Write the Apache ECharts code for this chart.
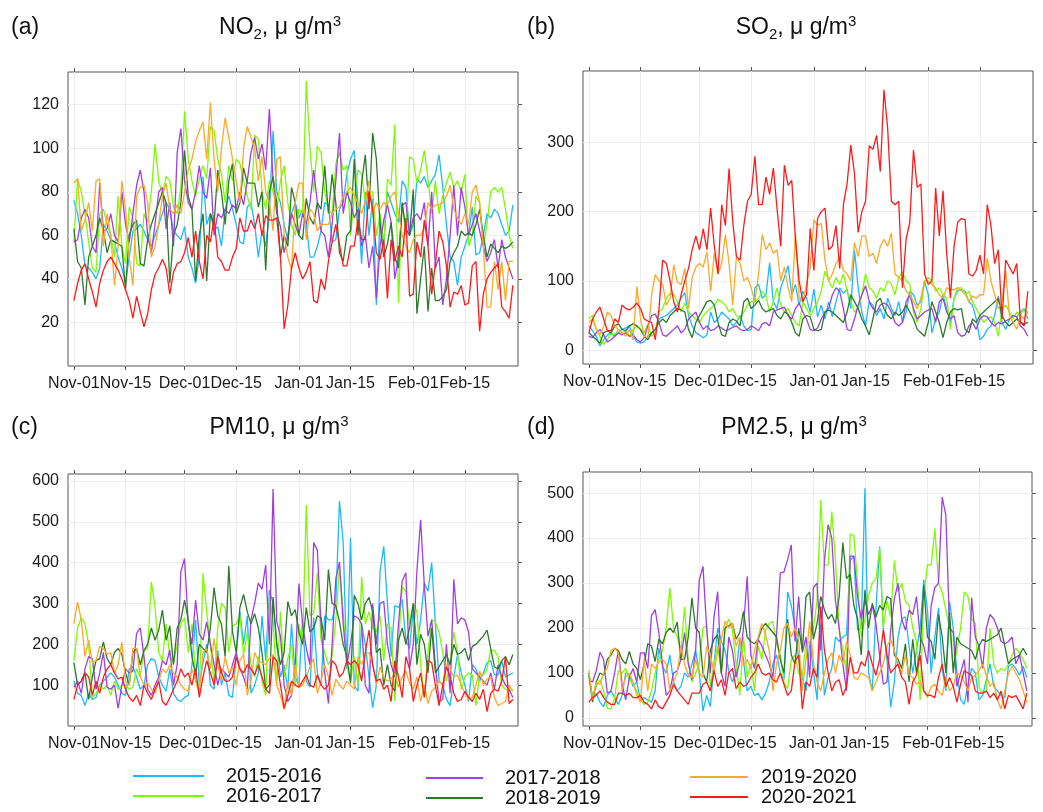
<!DOCTYPE html>
<html>
<head>
<meta charset="utf-8">
<script src="https://cdn.jsdelivr.net/npm/echarts@6/dist/echarts.min.js"></script>
<style>html,body{margin:0;padding:0;background:#fff}#c{width:1043px;height:812px}</style>
</head>
<body>
<div id="c"></div>
<script>
const seasons = ['2015-2016','2016-2017','2017-2018','2018-2019','2019-2020','2020-2021'];
const tickDays = [0,14,30,44,61,75,92,106];
const tickLabels = ['Nov-01','Nov-15','Dec-01','Dec-15','Jan-01','Jan-15','Feb-01','Feb-15'];
const no2Ticks = [20,40,60,80,100,120];
const so2Ticks = [0,100,200,300];
const pm10Ticks = [100,200,300,400,500,600];
const pm25Ticks = [0,100,200,300,400,500];

// ---- NO2 ----
const no2_1516 = [76,70,60,46,45,43,40,45,65,62,58,57,50,45,38,50,62,63,65,62,58,55,60,65,70,75,72,62,60,58,64,50,45,38,50,87,65,70,62,64,55,72,78,72,65,57,56,73,75,65,50,62,55,70,108,80,75,65,58,70,75,68,72,65,50,50,55,62,75,74,57,58,72,75,88,95,99,75,47,80,60,77,28,68,55,80,75,70,66,85,82,60,65,86,84,87,82,85,88,97,82,65,50,48,37,50,55,60,73,51,52,60,70,68,72,70,65,60,62,74];
const no2_1617 = [57,86,80,70,57,45,43,70,72,65,60,50,78,55,47,73,68,47,46,70,66,80,102,85,78,87,85,73,70,82,117,95,85,78,86,92,86,110,108,95,88,75,92,85,95,93,85,78,72,106,104,80,72,85,80,72,85,92,75,65,60,72,70,131,100,80,101,98,80,72,70,93,98,90,92,60,77,90,88,76,80,80,60,70,56,86,83,111,29,75,60,96,95,84,90,99,86,70,85,70,78,84,89,82,85,80,88,55,60,78,75,55,65,80,82,80,82,72,60,54];
const no2_1718 = [57,58,68,72,68,55,52,84,62,63,70,60,57,80,65,57,70,83,90,80,60,52,65,80,82,63,75,55,98,109,85,75,72,80,92,80,77,91,60,70,68,72,70,74,72,80,74,85,98,105,95,102,90,118,85,70,64,52,60,70,65,60,70,65,75,90,75,62,60,50,65,85,107,70,80,75,68,72,55,60,45,55,31,55,67,74,66,40,50,74,75,60,68,70,67,75,55,80,45,50,28,40,60,83,60,82,73,60,65,70,62,55,48,52,58,45,58,50,45,40];
const no2_1819 = [63,48,45,28,50,55,60,68,62,52,58,57,56,55,35,60,65,67,47,46,58,65,70,75,80,75,38,60,65,75,99,78,72,39,60,70,39,70,65,90,80,65,85,93,70,75,91,84,84,84,73,80,44,80,87,75,50,60,55,82,75,60,58,77,68,65,75,72,92,70,88,75,52,48,60,62,95,60,84,97,72,107,95,65,50,56,66,50,45,75,63,60,81,24,40,55,25,45,30,30,32,35,48,52,55,62,60,61,60,65,72,60,50,56,54,52,55,54,55,57];
const no2_1920 = [84,86,62,67,75,62,85,86,55,70,60,37,55,85,72,50,37,78,82,83,75,50,55,65,78,84,72,70,74,70,80,90,95,103,108,112,95,121,95,80,100,114,105,95,85,75,100,110,105,100,85,96,80,75,62,95,96,60,50,44,75,84,84,58,72,70,62,65,65,65,70,72,73,78,80,82,78,75,70,76,85,70,75,72,75,74,78,80,70,60,55,52,58,60,60,63,75,72,74,74,75,78,83,72,68,65,70,65,80,83,75,55,27,27,48,35,48,30,48,48];
const no2_2021 = [30,38,44,47,40,34,27,38,44,48,50,47,44,40,35,30,22,32,25,18,24,35,42,45,49,45,33,43,47,48,52,59,50,62,48,40,60,57,68,50,48,44,44,50,54,68,62,62,67,63,70,60,69,67,67,68,50,17,28,45,52,45,40,43,48,30,29,40,35,48,57,65,56,46,46,55,55,67,58,58,80,72,52,49,58,31,58,48,55,50,68,32,33,57,50,67,55,33,47,62,57,46,27,34,33,37,28,29,46,48,16,33,40,43,45,47,27,25,22,37];

// ---- SO2 ----
const so2_1516 = [35,28,20,6,15,22,25,20,25,30,32,35,20,12,10,12,20,25,30,45,48,50,55,60,65,75,83,50,35,25,22,18,22,55,40,45,55,50,45,35,40,50,35,28,30,90,95,75,80,126,70,60,90,105,122,80,95,65,85,75,55,88,48,65,45,70,48,70,90,82,88,60,144,90,55,35,70,65,50,60,45,75,60,50,70,40,55,85,80,65,70,100,80,25,45,55,80,60,40,75,85,88,85,70,65,45,15,20,30,35,50,78,40,30,45,50,48,55,60,45];
const so2_1617 = [45,50,30,20,8,15,25,22,30,25,28,20,30,35,30,25,38,20,25,55,60,75,82,80,70,55,68,55,50,45,40,50,55,60,65,73,70,65,55,60,50,45,55,65,70,70,75,85,78,55,70,90,65,55,60,50,40,35,70,60,50,60,70,85,114,100,90,105,95,110,85,70,55,60,80,110,90,85,75,90,85,100,95,80,105,112,100,95,55,40,60,100,105,100,85,90,80,75,30,75,90,90,80,85,70,60,50,40,45,48,40,20,60,65,55,45,55,50,60,55];
const so2_1718 = [20,18,25,30,22,12,15,20,25,22,25,20,22,15,12,18,35,50,52,40,22,20,25,30,35,25,30,45,50,55,40,30,35,28,30,35,32,28,30,33,35,30,28,30,35,32,28,38,40,35,55,58,60,62,50,45,60,68,55,45,30,28,32,45,55,60,80,90,85,60,30,28,45,65,80,93,70,60,55,65,68,65,55,40,35,40,70,80,60,45,50,55,58,60,40,70,75,55,45,50,25,20,22,35,40,30,45,50,48,40,35,40,38,42,45,50,48,35,30,20];
const so2_1819 = [25,20,15,10,25,28,25,35,38,30,28,35,38,35,30,20,15,25,30,40,45,40,50,55,60,58,55,30,18,40,50,60,70,72,65,40,22,20,40,45,42,35,70,75,60,65,72,60,55,58,60,50,45,55,52,40,25,20,45,50,48,30,28,30,55,58,55,50,45,40,55,80,70,60,45,35,22,45,70,75,60,50,45,55,50,55,65,55,45,30,25,20,40,70,55,40,18,40,55,60,58,60,30,25,45,40,50,55,60,65,70,75,50,40,35,40,45,40,38,40];
const so2_1920 = [40,45,30,22,35,55,50,35,30,25,20,30,15,92,45,20,18,80,109,100,95,65,75,123,98,95,118,60,105,120,125,120,142,85,140,110,125,167,125,65,135,125,100,105,90,70,110,167,145,155,140,145,100,120,90,70,169,75,70,95,120,188,180,183,130,100,110,125,135,115,110,100,155,135,165,165,135,140,125,150,160,150,169,110,105,100,85,80,70,60,75,100,100,95,90,80,75,90,88,87,90,85,82,70,78,75,80,80,133,100,80,60,70,115,50,40,30,50,45,55];
const so2_2021 = [25,45,55,62,45,28,28,45,40,65,60,58,62,68,60,45,42,40,15,60,130,125,100,70,55,80,100,118,145,165,145,175,145,205,150,110,210,180,262,185,135,130,180,215,225,280,210,210,250,225,263,205,150,267,238,245,160,100,70,80,176,115,190,200,205,145,150,180,118,210,240,296,255,170,200,215,295,290,310,258,376,320,215,210,215,90,160,185,289,235,240,110,95,100,234,165,230,140,75,150,185,190,188,110,107,115,137,110,210,180,125,145,45,130,120,110,125,40,35,85];

// ---- PM10 ----
const pm10_1516 = [110,80,75,50,80,65,70,100,110,120,130,120,100,80,75,140,145,120,90,100,150,165,160,120,100,85,140,80,65,60,70,75,150,260,100,155,200,100,90,185,100,130,75,70,170,280,200,270,80,100,130,270,160,333,300,200,120,150,90,250,120,100,260,110,95,265,130,100,270,260,260,300,551,450,140,461,100,85,250,200,120,45,100,380,440,300,170,295,290,310,210,190,285,200,260,351,330,400,250,110,100,65,50,120,175,130,100,60,150,140,110,130,155,160,125,125,160,120,125,130];
const pm10_1617 = [160,240,265,250,200,70,80,100,90,100,75,110,90,100,100,90,95,140,120,185,190,353,290,180,160,250,170,155,200,250,265,180,250,120,85,374,280,200,100,240,300,290,180,245,250,270,175,230,150,120,170,110,75,320,260,100,280,120,165,200,100,250,200,541,270,275,375,210,180,150,170,260,390,280,150,110,170,100,365,250,280,240,230,270,160,250,240,60,200,341,330,250,300,280,150,70,180,260,255,230,180,110,160,230,180,90,120,130,125,50,130,125,140,185,185,170,100,90,85,90];
const pm10_1718 = [95,110,80,140,170,165,90,130,180,95,90,100,43,100,140,130,135,227,240,170,90,75,100,120,160,150,186,100,150,378,410,250,200,308,225,210,255,200,150,100,140,130,120,150,180,140,120,90,260,300,350,335,394,200,580,255,220,100,60,75,150,349,250,190,150,449,430,250,130,55,200,360,402,250,150,200,270,265,250,100,80,300,200,300,305,200,150,120,250,355,375,140,200,380,505,345,220,260,150,60,65,200,80,359,250,265,260,230,140,130,120,110,100,130,90,150,120,100,90,70];
const pm10_1819 = [155,100,110,130,65,120,160,165,206,165,150,180,190,175,130,100,180,190,150,185,200,240,210,235,284,210,245,150,240,260,308,260,170,125,200,190,180,240,339,270,250,170,392,230,180,290,322,280,250,275,240,180,90,100,316,200,150,180,305,270,285,230,200,290,230,240,270,265,210,383,300,295,255,200,170,105,320,300,260,300,315,280,180,190,100,150,100,85,210,240,200,240,300,150,225,200,130,240,130,145,160,175,150,200,175,180,190,160,195,200,210,220,235,190,145,140,160,170,150,175];
const pm10_1920 = [250,304,260,170,210,155,160,195,190,175,180,130,150,205,110,100,190,190,120,100,105,90,80,110,140,130,150,130,120,100,90,85,140,110,80,180,190,140,214,150,110,170,130,145,100,160,175,75,110,180,160,155,150,165,175,100,75,40,110,75,150,95,100,120,145,165,80,110,150,120,75,115,100,90,110,100,90,170,150,175,180,150,100,145,120,110,115,130,95,120,135,105,90,120,60,100,55,85,95,110,100,150,140,120,125,100,80,65,70,100,135,100,115,120,70,50,55,60,100,85];
const pm10_2021 = [65,100,110,130,120,75,110,80,120,140,150,130,115,120,90,70,60,75,50,100,80,65,90,110,60,51,70,90,110,140,120,130,100,140,70,120,160,130,100,170,130,110,110,120,169,140,130,150,140,125,150,120,90,80,170,160,100,43,75,110,100,95,110,125,100,95,125,100,90,100,160,150,120,130,160,150,160,150,110,180,235,150,110,115,90,100,60,160,120,70,170,140,60,100,130,70,160,155,100,50,100,145,120,80,60,65,85,70,60,80,65,90,35,80,90,85,110,170,55,65];

// ---- PM2.5 ----
const pm25_1516 = [95,40,55,35,25,50,60,45,30,50,100,95,70,80,40,45,40,35,60,155,115,100,140,80,60,70,100,90,120,150,100,15,50,25,120,200,170,150,105,80,100,175,130,60,70,50,55,40,55,80,120,140,100,85,280,250,200,130,90,60,170,105,40,210,50,90,110,180,170,180,185,350,360,195,200,511,100,60,240,381,200,130,24,80,180,220,225,160,100,150,200,307,240,100,180,245,110,60,259,200,100,40,30,75,110,100,40,50,85,120,70,60,50,45,115,120,110,95,115,90];
const pm25_1617 = [90,50,70,85,60,22,20,45,105,100,110,85,75,60,40,30,35,60,100,130,150,200,289,200,180,150,247,130,80,100,120,200,205,70,120,160,100,200,220,195,120,50,180,90,120,60,160,130,195,210,215,165,140,80,65,130,140,100,90,170,165,200,260,485,340,340,459,350,200,150,100,409,405,300,180,220,270,300,310,378,200,260,225,350,280,300,260,250,200,170,40,270,341,340,421,300,280,240,200,110,150,200,280,270,220,210,70,55,60,200,120,100,110,105,120,140,155,145,130,110];
const pm25_1718 = [85,80,105,146,130,55,60,100,150,75,40,90,110,80,144,145,110,227,241,190,120,50,60,100,105,130,190,120,85,150,307,337,200,100,225,281,100,70,180,150,90,125,200,315,140,110,175,160,140,120,90,185,322,325,352,385,170,270,145,180,90,290,300,150,350,430,400,260,200,120,60,360,360,270,220,263,230,250,210,140,75,80,195,265,300,220,195,240,230,270,180,160,120,250,290,300,491,450,200,190,70,100,130,35,267,180,160,110,200,230,220,200,170,165,170,180,120,140,100,60];
const pm25_1819 = [100,35,80,100,95,130,140,155,150,130,120,148,120,110,85,120,165,160,125,175,165,190,200,190,213,130,130,180,267,200,190,100,80,150,175,185,100,200,205,210,175,190,237,180,170,165,175,200,210,200,190,180,130,100,220,140,120,200,150,270,280,175,210,270,240,220,230,210,270,390,310,320,250,220,140,285,200,255,225,250,240,270,265,140,130,110,165,80,175,100,150,296,180,170,130,230,180,100,235,100,180,165,160,155,150,130,160,175,170,175,180,185,200,160,120,130,135,140,155,140];
const pm25_1920 = [107,40,80,75,100,110,150,155,145,60,90,100,80,50,35,130,60,120,110,125,130,120,60,80,100,160,120,95,90,130,100,90,160,140,100,150,175,215,200,210,160,180,115,130,110,150,180,210,185,150,60,120,150,200,210,180,200,170,60,130,215,125,80,60,100,130,145,100,140,120,170,140,90,85,100,95,90,60,80,100,120,160,175,150,120,100,140,95,90,75,80,60,45,70,75,60,50,90,60,70,100,95,80,60,90,95,105,120,95,70,80,40,20,60,100,115,100,85,60,35];
const pm25_2021 = [35,45,50,60,45,35,30,30,55,55,50,55,45,45,50,35,30,20,40,25,20,35,50,74,60,50,40,30,55,55,55,75,80,60,105,70,85,50,100,110,65,80,70,75,90,100,120,100,95,100,85,80,100,75,50,60,125,140,20,80,70,110,90,248,150,100,60,80,85,50,70,135,100,100,125,115,150,120,95,130,196,140,100,110,120,90,80,30,80,95,140,60,50,50,45,90,120,70,90,70,35,75,105,100,95,60,55,55,60,45,55,40,60,20,50,45,50,35,20,55];

const FONT = 'Liberation Sans, Arial, sans-serif';
const colors = ['#1cb9ff','#7cfc00','#a23ee0','#2b7a2b','#ffa726','#ff1a1a'];

const panels = [
  {tag:'(a)', title:'{m|NO}{s|2}{m|, \u03bc g/m}{p|3}', series:[no2_1516,no2_1617,no2_1718,no2_1819,no2_1920,no2_2021], yMin:0, yMax:135, yTicks:no2Ticks,
   grid:{left:68, top:72, width:450, height:294}, tagPos:[11,16], titleX:280, titleY:14},
  {tag:'(b)', title:'{m|SO}{s|2}{m|, \u03bc g/m}{p|3}', series:[so2_1516,so2_1617,so2_1718,so2_1819,so2_1920,so2_2021], yMin:-20, yMax:403, yTicks:so2Ticks,
   grid:{left:583, top:71, width:450, height:293}, tagPos:[527,16], titleX:796, titleY:14},
  {tag:'(c)', title:'{m|PM10, \u03bc g/m}{p|3}', series:[pm10_1516,pm10_1617,pm10_1718,pm10_1819,pm10_1920,pm10_2021], yMin:0, yMax:617, yTicks:pm10Ticks,
   grid:{left:68, top:474, width:450, height:252}, tagPos:[11,416], titleX:279, titleY:414},
  {tag:'(d)', title:'{m|PM2.5, \u03bc g/m}{p|3}', series:[pm25_1516,pm25_1617,pm25_1718,pm25_1819,pm25_1920,pm25_2021], yMin:-18, yMax:547, yTicks:pm25Ticks,
   grid:{left:583, top:472, width:449, height:254}, tagPos:[527,416], titleX:794, titleY:414}
];

const titleRich = {
  m:{fontSize:23, lineHeight:28, fontFamily:FONT, fontWeight:'normal', color:'#111'},
  s:{fontSize:15, lineHeight:15, padding:[12,0,0,0], verticalAlign:'bottom', fontFamily:FONT, fontWeight:'normal', color:'#111'},
  p:{fontSize:15, lineHeight:15, padding:[0,0,12,0], verticalAlign:'top', fontFamily:FONT, fontWeight:'normal', color:'#111'}
};

const option = {animation:false, backgroundColor:'#fff', title:[], grid:[], xAxis:[], yAxis:[], series:[], legend:[]};
const AX = '#555';
panels.forEach((p, i) => {
  option.title.push({text:p.tag, left:p.tagPos[0], top:p.tagPos[1], padding:0, textStyle:{fontSize:23, fontWeight:'normal', fontFamily:FONT, color:'#111'}});
  option.title.push({text:p.title, left:p.titleX, top:p.titleY, padding:0, textAlign:'center', textStyle:{fontWeight:'normal', rich:titleRich}});
  option.grid.push(Object.assign({show:true, borderColor:AX, borderWidth:1, backgroundColor:'#fff', containLabel:false}, p.grid));
  const xb = {type:'value', gridIndex:i, min:-1.6, max:120.4, position:'bottom',
    axisLine:{show:false, onZero:false},
    axisTick:{show:true, inside:false, length:4, customValues:tickDays, lineStyle:{color:AX}},
    axisLabel:{show:true, customValues:tickDays, margin:10, fontSize:16, fontFamily:FONT, color:'#1a1a1a',
      formatter:(v)=>{const k=tickDays.indexOf(Math.round(v)); return k>=0?tickLabels[k]:'';}},
    splitLine:{show:true, lineStyle:{color:'#ececec', width:1}}};
  const xt = {type:'value', gridIndex:i, min:-1.6, max:120.4, position:'top',
    axisLine:{show:false, onZero:false},
    axisTick:{show:true, inside:false, length:4, customValues:tickDays, lineStyle:{color:AX}},
    axisLabel:{show:false}, splitLine:{show:false}};
  option.xAxis.push(xb, xt);
  const yl = {type:'value', gridIndex:i, min:p.yMin, max:p.yMax, position:'left',
    axisLine:{show:false, onZero:false},
    axisTick:{show:false, customValues:p.yTicks},
    axisLabel:{show:true, customValues:p.yTicks, margin:9, fontSize:16, fontFamily:FONT, color:'#1a1a1a'},
    splitLine:{show:true, lineStyle:{color:'#ececec', width:1}}};
  const yr = {type:'value', gridIndex:i, min:p.yMin, max:p.yMax, position:'right',
    axisLine:{show:false, onZero:false},
    axisTick:{show:true, inside:false, length:4, customValues:p.yTicks, lineStyle:{color:AX}},
    axisLabel:{show:false}, splitLine:{show:false}};
  option.yAxis.push(yl, yr);
  p.series.forEach((vals, s) => {
    option.series.push({
      type:'line', name:seasons[s], xAxisIndex:2*i, yAxisIndex:2*i,
      data: vals.map((v, d) => [d, v]),
      symbol:'none', showSymbol:false, silent:true,
      lineStyle:{width:1.3, color:colors[s]}, itemStyle:{color:colors[s]},
      z: 2 + s
    });
  });
});

const legText = {fontSize:20, fontFamily:FONT, color:'#111', lineHeight:20};
const legBase = {orient:'vertical', padding:0, itemGap:0, itemHeight:2, icon:'rect', selectedMode:false, height:44};
option.legend = [
  Object.assign({data:[seasons[0],seasons[1]], left:133, top:766, itemWidth:71,
   textStyle:Object.assign({padding:[0,0,0,17]}, legText)}, legBase),
  Object.assign({data:[seasons[2],seasons[3]], left:426, top:768, itemWidth:57,
   textStyle:Object.assign({padding:[0,0,0,17]}, legText)}, legBase),
  Object.assign({data:[seasons[4],seasons[5]], left:690, top:767, itemWidth:58,
   textStyle:Object.assign({padding:[0,0,0,8]}, legText)}, legBase)
];

const chart = echarts.init(document.getElementById('c'), null, {renderer:'canvas'});
chart.setOption(option);
</script>
</body>
</html>
